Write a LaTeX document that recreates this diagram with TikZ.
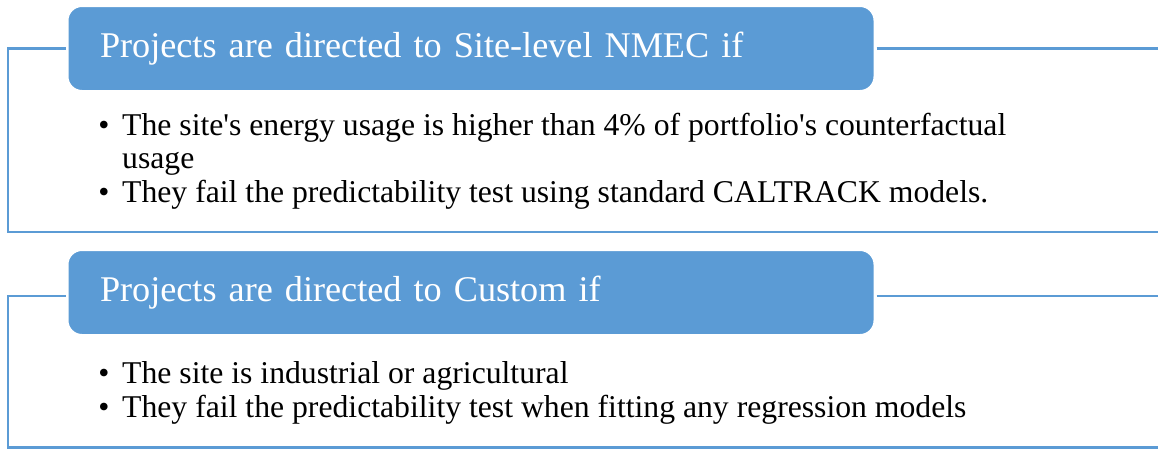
\documentclass[tikz,border=0pt]{standalone}
\usepackage{fontspec}
\setmainfont{Liberation Serif}
\definecolor{hdrblue}{HTML}{5B9BD5}

\begin{document}
\begin{tikzpicture}[x=1pt,y=-1pt,
    header/.style={anchor=west,fill=hdrblue,draw=white,line width=3pt,
        rounded corners=15pt,minimum height=86pt,text width=742pt,
        inner xsep=33pt,align=left,text=white,
        font=\fontsize{36.2}{40}\selectfont},
    frame/.style={draw=hdrblue,line width=2.2pt},
    item/.style={anchor=base west,inner sep=0pt,font=\fontsize{31.7}{35}\selectfont},
    dot/.style={anchor=base,inner sep=0pt,font=\fontsize{31.7}{35}\selectfont}]
    \clip (0,0) rectangle (1158,448);

    % first block: site-level NMEC
    \node[header] (hsite) at (65.5,48.5) {Projects are directed to Site-level NMEC if};
    \draw[frame] (hsite.west) -| (8,232) -- (1170,232);
    \draw[frame] (hsite.east) -- ++(320,0);
    \node[item] (sitea) at (122,135) {The site\textquotesingle s energy usage is higher than 4\% of portfolio\textquotesingle s counterfactual};
    \node[item] (siteaa) at (122,168) {usage};
    \node[item] (siteb) at (122,202) {They fail the predictability test using standard CALTRACK models.};
    \node[dot] (dsitea) at (104,135) {\textbullet};
    \node[dot] (dsiteb) at (104,202) {\textbullet};

    % second block: custom
    \node[header] (hcust) at (65.5,292.5) {Projects are directed to Custom if};
    \draw[frame] ([yshift=-3.5pt]hcust.west) -| (8,447.5) -- (1170,447.5);
    \draw[frame] ([yshift=-3.5pt]hcust.east) -- ++(320,0);
    \node[item] (custa) at (122,383) {The site is industrial or agricultural};
    \node[item] (custb) at (122,417) {They fail the predictability test when fitting any regression models};
    \node[dot] (dcusta) at (104,383) {\textbullet};
    \node[dot] (dcustb) at (104,417) {\textbullet};
\end{tikzpicture}
\end{document}
